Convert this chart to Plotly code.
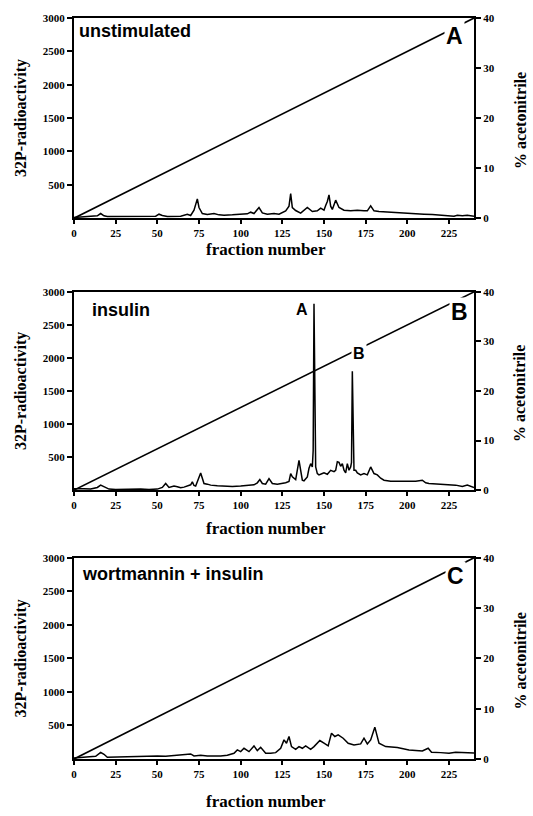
import plotly.graph_objects as go

# ---------------- data ----------------
fractions_unstim = [0, 3, 6, 10, 14, 16, 18, 20, 25, 30, 35, 40, 45, 49, 51, 53, 56, 60, 64, 68, 70, 72, 73, 74, 75, 77, 80, 84, 87, 90, 95, 100, 104, 106, 108, 111, 113, 116, 120, 123, 125, 127, 129, 130, 131, 133, 136, 140, 143, 146, 148, 150, 151, 152, 153, 154, 155, 157, 159, 162, 166, 170, 174, 176, 178, 180, 183, 186, 190, 195, 200, 205, 210, 215, 220, 225, 228, 230, 233, 236, 240]
cpm_unstim = [10, 15, 20, 25, 35, 70, 35, 25, 25, 20, 25, 20, 25, 30, 60, 40, 25, 25, 30, 60, 40, 120, 200, 290, 160, 70, 55, 70, 50, 45, 50, 60, 65, 90, 70, 160, 80, 60, 70, 60, 90, 110, 180, 370, 160, 115, 75, 160, 100, 110, 150, 120, 190, 250, 350, 180, 130, 270, 160, 120, 110, 120, 110, 110, 185, 110, 100, 95, 85, 75, 70, 65, 60, 55, 45, 40, 30, 45, 35, 45, 30]

fractions_insulin = [0, 3, 6, 10, 14, 16, 18, 21, 25, 30, 35, 40, 45, 50, 53, 55, 57, 60, 62, 64, 66, 68, 70, 71, 72, 73, 75, 76, 77, 78, 80, 82, 86, 90, 95, 100, 105, 108, 110, 111.5, 113, 115, 117, 119, 122, 125, 127, 129, 130, 131, 133, 135, 136, 137, 138, 140, 141, 142, 143, 143.5, 144, 144.5, 145, 146, 147, 149, 150, 152, 154, 156, 157, 158, 159, 160, 161, 162, 163, 164, 165, 166, 166.5, 167, 167.5, 168, 169, 170, 172, 174, 176, 178, 180, 182, 184, 186, 190, 195, 200, 205, 209, 211, 213, 217, 221, 225, 229, 233, 236, 240]
cpm_insulin = [20, 15, 20, 15, 40, 75, 50, 15, 10, 15, 10, 15, 10, 15, 40, 100, 40, 60, 50, 35, 45, 60, 80, 125, 70, 60, 200, 260, 180, 100, 90, 75, 65, 60, 55, 60, 75, 80, 110, 160, 100, 90, 175, 100, 90, 100, 110, 130, 250, 200, 160, 450, 280, 150, 140, 200, 330, 400, 350, 600, 2820, 1200, 350, 250, 230, 250, 260, 240, 300, 280, 300, 430, 420, 360, 400, 300, 260, 400, 300, 350, 420, 1800, 1000, 300, 300, 260, 230, 250, 230, 350, 250, 230, 180, 150, 135, 135, 130, 135, 150, 110, 100, 95, 90, 80, 75, 55, 75, 40]

fractions_wort = [0, 3, 6, 10, 13, 16, 18, 20, 25, 30, 35, 40, 45, 50, 55, 60, 65, 68, 70, 72, 76, 80, 84, 88, 92, 96, 98, 100, 102, 105, 108, 110, 112, 115, 118, 121, 124, 126, 127.5, 129, 130.5, 133, 135, 137, 139, 142, 144, 147.5, 150, 152.5, 154.5, 156.5, 158.5, 161.5, 164.5, 168, 172, 174, 176, 178, 180.5, 183, 187, 194, 201, 209, 212.5, 214.5, 220, 225, 229, 235, 240]
cpm_wort = [15, 20, 20, 25, 40, 100, 70, 25, 30, 35, 40, 35, 40, 45, 40, 50, 55, 60, 75, 45, 55, 45, 40, 45, 55, 85, 135, 110, 160, 110, 195, 125, 175, 85, 85, 95, 160, 285, 235, 335, 185, 145, 185, 160, 195, 145, 185, 275, 235, 195, 385, 335, 360, 310, 235, 210, 225, 310, 225, 285, 475, 235, 185, 170, 135, 120, 160, 100, 95, 85, 100, 100, 90]

gradient_fraction = [0, 240]
gradient_pct = [0, 40]

panel_titles = ["unstimulated", "insulin", "wortmannin + insulin"]
panel_letters = ["A", "B", "C"]
x_ticks = [0, 25, 50, 75, 100, 125, 150, 175, 200, 225]
left_ticks = [500, 1000, 1500, 2000, 2500, 3000]
right_ticks = [0, 10, 20, 30, 40]

# ---------------- layout geometry ----------------
W, H = 533, 816
ML, MR, MT, MB = 74, 59, 15, 57
PW = W - ML - MR
PH = H - MT - MB


def px2x(px):
    return (px - ML) / PW


def py2y(py):
    return (H - MB - py) / PH


panels_px = [(15, 216), (290, 489), (557, 759)]  # (top, bottom) pixel rows

series = [(fractions_unstim, cpm_unstim), (fractions_insulin, cpm_insulin), (fractions_wort, cpm_wort)]

serif = "Liberation Serif, Times New Roman, serif"
sans = "Liberation Sans, Arial, sans-serif"

fig = go.Figure()
layout = dict(
    width=W, height=H,
    margin=dict(l=ML, r=MR, t=MT, b=MB),
    paper_bgcolor="white", plot_bgcolor="white",
    showlegend=False,
)
annotations = []

for i, ((top, bot), (fx, cy)) in enumerate(zip(panels_px, series)):
    xn = "x" if i == 0 else f"x{i+1}"
    yp_n = 2 * i + 1
    ys_n = 2 * i + 2
    yp = "y" if yp_n == 1 else f"y{yp_n}"
    ys = f"y{ys_n}"

    fig.add_trace(go.Scatter(x=gradient_fraction, y=gradient_pct, xaxis=xn, yaxis=ys,
                             mode="lines", line=dict(color="black", width=1.6),
                             hoverinfo="skip"))
    fig.add_trace(go.Scatter(x=fx, y=cy, xaxis=xn, yaxis=yp,
                             mode="lines", line=dict(color="black", width=1.5)))

    dom = [py2y(bot), py2y(top)]
    xkey = "xaxis" if i == 0 else f"xaxis{i+1}"
    ypkey = "yaxis" if yp_n == 1 else f"yaxis{yp_n}"
    yskey = f"yaxis{ys_n}"

    layout[xkey] = dict(
        domain=[0, 1], anchor=yp, range=[0, 240],
        tickvals=x_ticks, ticks="outside", ticklen=4, tickwidth=1.5, tickcolor="black",
        showline=True, linecolor="black", linewidth=2, mirror=True,
        showgrid=False, zeroline=False,
        tickfont=dict(family=serif, size=11, color="black", weight="bold"),
    )
    layout[ypkey] = dict(
        domain=dom, anchor=xn, range=[0, 3000],
        tickvals=left_ticks, ticks="outside", ticklen=5, tickwidth=1.5, tickcolor="black",
        showline=True, linecolor="black", linewidth=2,
        showgrid=False, zeroline=False,
        tickfont=dict(family=serif, size=11, color="black", weight="bold"),
    )
    layout[yskey] = dict(
        overlaying=yp, side="right", anchor=xn, range=[0, 40],
        tickvals=right_ticks, ticks="outside", ticklen=5, tickwidth=1.5, tickcolor="black",
        showline=True, linecolor="black", linewidth=2,
        showgrid=False, zeroline=False,
        tickfont=dict(family=serif, size=11, color="black", weight="bold"),
    )

    mid = (top + bot) / 2
    # axis titles
    annotations.append(dict(text="<b>32P-radioactivity</b>", x=px2x(21), y=py2y(mid),
                            xref="paper", yref="paper", showarrow=False, textangle=-90,
                            font=dict(family=serif, size=16, color="black"),
                            xanchor="center", yanchor="middle"))
    annotations.append(dict(text="<b>% acetonitrile</b>", x=px2x(520), y=py2y(mid + 3),
                            xref="paper", yref="paper", showarrow=False, textangle=-90,
                            font=dict(family=serif, size=16, color="black"),
                            xanchor="center", yanchor="middle"))
    title_y = [247, 528, 802][i]
    annotations.append(dict(text="<b>fraction number</b>", x=px2x(266), y=py2y(title_y),
                            xref="paper", yref="paper", showarrow=False,
                            font=dict(family=serif, size=17, color="black"),
                            xanchor="center", yanchor="middle"))
    # panel title
    tx, ty = [(77, 28), (90, 308), (80, 573)][i]
    annotations.append(dict(text=f"<b>{panel_titles[i]}</b>", x=px2x(tx), y=py2y(ty),
                            xref="paper", yref="paper", showarrow=False,
                            font=dict(family=sans, size=18, color="black"),
                            xanchor="left", yanchor="middle"))
    # panel letter
    lx, ly = [(454, 33), (459, 310), (455, 575)][i]
    annotations.append(dict(text=f"<b>{panel_letters[i]}</b>", x=px2x(lx), y=py2y(ly),
                            xref="paper", yref="paper", showarrow=False,
                            font=dict(family=sans, size=23, color="black"),
                            bgcolor="white", borderpad=1,
                            xanchor="center", yanchor="middle"))

# peak labels in insulin panel
annotations.append(dict(text="<b>A</b>", x=px2x(302), y=py2y(308), xref="paper", yref="paper",
                        showarrow=False, font=dict(family=sans, size=16, color="black"),
                        bgcolor="white", borderpad=1, xanchor="center", yanchor="middle"))
annotations.append(dict(text="<b>B</b>", x=px2x(359), y=py2y(352), xref="paper", yref="paper",
                        showarrow=False, font=dict(family=sans, size=16, color="black"),
                        bgcolor="white", borderpad=1, xanchor="center", yanchor="middle"))

layout["annotations"] = annotations
fig.update_layout(**layout)
fig.write_html("out.html", config={"displayModeBar": False},
               post_script="document.body.style.margin='0';document.body.style.overflow='hidden';")
